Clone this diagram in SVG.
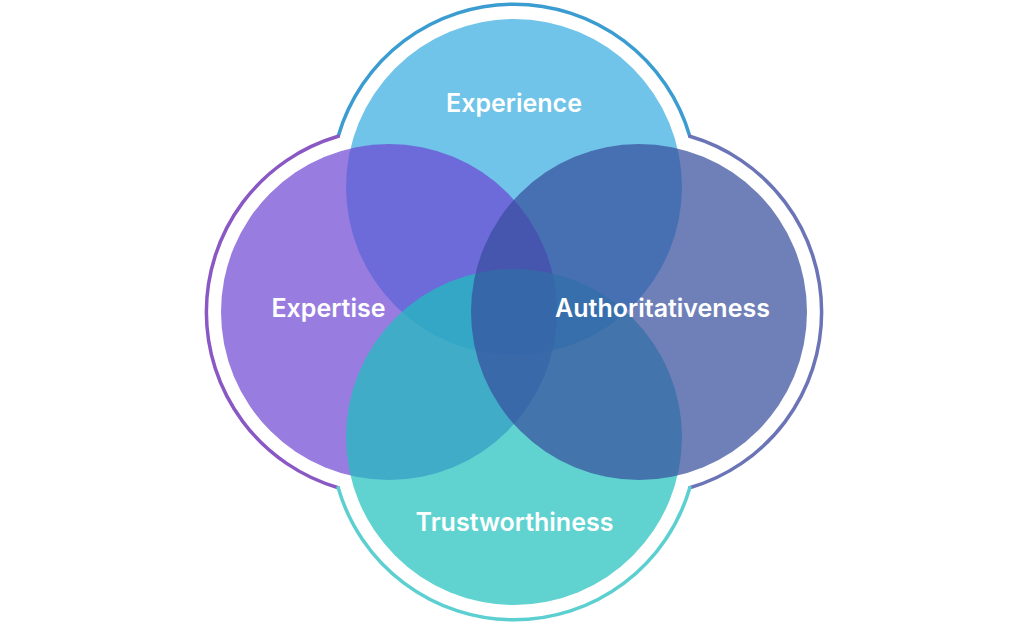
<svg xmlns="http://www.w3.org/2000/svg" width="1024" height="625" viewBox="0 0 1024 625">
  <style>
    .ring { fill: none; stroke-width: 3.5; stroke-linecap: round; }
    .lbl { font-family: Inter, "Noto Sans", "Liberation Sans", sans-serif; font-weight: 600; font-size: 25px; fill: #ffffff; text-anchor: middle; }
  </style>
  <rect width="1024" height="625" fill="#ffffff"/>
  <g id="outline">
    <path class="ring" stroke="#3A9CD0" d="M 338.2 136.3 A 183 183 0 0 1 689.8 136.3"/>
    <path class="ring" stroke="#8A58C5" d="M 338.2 487.7 A 183 183 0 0 1 338.2 136.3"/>
    <path class="ring" stroke="#6B74B7" d="M 689.8 136.3 A 183 183 0 0 1 689.8 487.7"/>
    <path class="ring" stroke="#5CCFD0" d="M 689.8 487.7 A 183 183 0 0 1 338.2 487.7"/>
  </g>
  <g id="experience">
    <circle cx="514" cy="187" r="168" fill="#70C4E9"/>
  </g>
  <g id="expertise">
    <circle cx="389" cy="312" r="168" fill="#6C44D3" fill-opacity="0.7"/>
  </g>
  <g id="trustworthiness">
    <circle cx="514" cy="437" r="168" fill="#1CC0BD" fill-opacity="0.7"/>
  </g>
  <g id="authoritativeness">
    <circle cx="639" cy="312" r="168" fill="#384F9E" fill-opacity="0.72"/>
  </g>
  <g id="labels">
    <text class="lbl" x="514" y="112">Experience</text>
    <text class="lbl" x="328.5" y="317">Expertise</text>
    <text class="lbl" x="662.5" y="317">Authoritativeness</text>
    <text class="lbl" x="514.5" y="531">Trustworthiness</text>
  </g>
</svg>
